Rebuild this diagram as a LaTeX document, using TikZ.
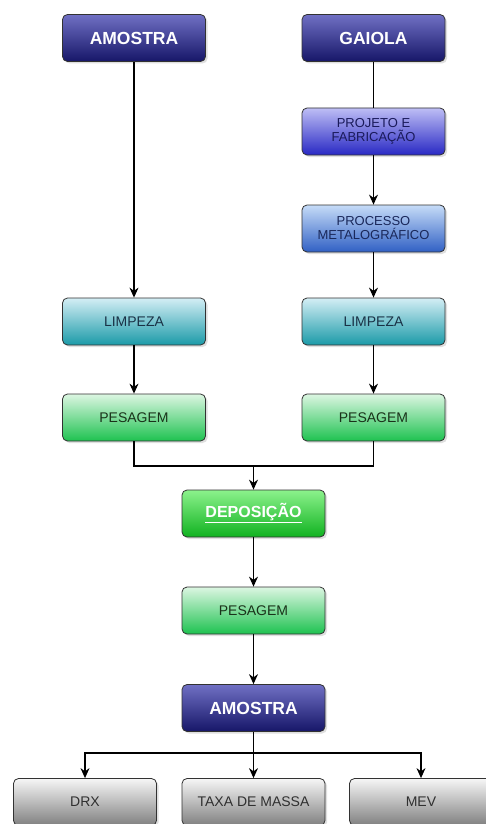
\documentclass[tikz,border=0pt]{standalone}
\usepackage{fontspec}
\setmainfont{Liberation Sans}
\usetikzlibrary{arrows.meta,shadows}
\definecolor{dbTop}{RGB}{112,112,196}
\definecolor{dbBot}{RGB}{22,22,104}
\definecolor{pjTop}{RGB}{190,190,245}
\definecolor{pjBot}{RGB}{40,40,196}
\definecolor{pcTop}{RGB}{198,220,248}
\definecolor{pcBot}{RGB}{48,96,196}
\definecolor{lmTop}{RGB}{212,238,245}
\definecolor{lmBot}{RGB}{26,154,168}
\definecolor{psTop}{RGB}{220,246,226}
\definecolor{psBot}{RGB}{30,194,80}
\definecolor{dpTop}{RGB}{140,242,140}
\definecolor{dpBot}{RGB}{16,178,32}
\definecolor{gyTop}{RGB}{246,246,246}
\definecolor{gyBot}{RGB}{128,128,128}
\definecolor{edge}{RGB}{50,50,50}
\tikzset{
  box/.style={draw=edge, line width=0.8pt, rounded corners=5pt, minimum width=143pt,
    minimum height=47pt, inner sep=0pt, align=center,
    drop shadow={shadow xshift=2pt, shadow yshift=-2pt, opacity=0.25}},
  darkbox/.style={box, top color=dbTop, bottom color=dbBot, text=white, font=\bfseries\fontsize{17.5}{19}\selectfont},
  projbox/.style={box, top color=pjTop, bottom color=pjBot, text={rgb,255:red,26;green,26;blue,90}, font=\fontsize{13}{14}\selectfont},
  procbox/.style={box, top color=pcTop, bottom color=pcBot, text={rgb,255:red,26;green,40;blue,90}, font=\fontsize{13}{14}\selectfont},
  limpbox/.style={box, top color=lmTop, bottom color=lmBot, text={rgb,255:red,26;green,50;blue,70}, font=\fontsize{14}{16}\selectfont},
  pesbox/.style={box, top color=psTop, bottom color=psBot, text={rgb,255:red,26;green,50;blue,26}, font=\fontsize{14}{16}\selectfont},
  depbox/.style={box, top color=dpTop, bottom color=dpBot, text=white, font=\bfseries\fontsize{16}{18}\selectfont},
  graybox/.style={box, top color=gyTop, bottom color=gyBot, text={rgb,255:red,48;green,48;blue,48}, font=\fontsize{14}{16}\selectfont},
  conn/.style={draw=black, line width=1.1pt},
  arr/.style={conn, -{Stealth[length=10pt,width=9pt]}}
}
\begin{document}
\begin{tikzpicture}[x=1pt,y=-1pt]
\useasboundingbox (0,0) rectangle (486,824);
\fill[white] (0,0) rectangle (486,824);
\clip (0,0) rectangle (486,824);
% nodes
\node[darkbox] (am1) at (134,38) {AMOSTRA};
\node[darkbox] (gai) at (373.5,38) {GAIOLA};
\node[projbox] (proj) at (373.5,131.5) {PROJETO E\\FABRICAÇÃO};
\node[procbox] (proc) at (373.5,228.5) {PROCESSO\\METALOGRÁFICO};
\node[limpbox] (limp1) at (134,321.5) {LIMPEZA};
\node[limpbox] (limp2) at (373.5,321.5) {LIMPEZA};
\node[pesbox] (pes1) at (134,417.5) {PESAGEM};
\node[pesbox] (pes2) at (373.5,417.5) {PESAGEM};
\node[depbox] (dep) at (253.5,513.5) {\underline{DEPOSIÇÃO}};
\node[pesbox] (pes3) at (253.5,610.5) {PESAGEM};
\node[darkbox] (am3) at (253.5,708) {AMOSTRA};
\node[graybox] (drx) at (85,802) {DRX};
\node[graybox] (taxa) at (253.5,802) {TAXA DE MASSA};
\node[graybox] (mev) at (421,802) {MEV};
\coordinate (j) at (253.5,466);
\coordinate (b) at (253.5,753);
% connectors
\draw[arr] (am1) -- (limp1);
\draw[conn] (gai) -- (proj);
\draw[arr] (proj) -- (proc);
\draw[arr] (proc) -- (limp2);
\draw[arr] (limp1) -- (pes1);
\draw[arr] (limp2) -- (pes2);
\draw[conn] (pes1.south) |- (j);
\draw[conn] (pes2.south) |- (j);
\draw[arr] (j) -- (dep);
\draw[arr] (dep) -- (pes3);
\draw[arr] (pes3) -- (am3);
\draw[conn] (am3) -- (b);
\draw[arr] (b) -| (drx.north);
\draw[arr] (b) -- (taxa);
\draw[arr] (b) -| (mev.north);
\end{tikzpicture}
\end{document}
